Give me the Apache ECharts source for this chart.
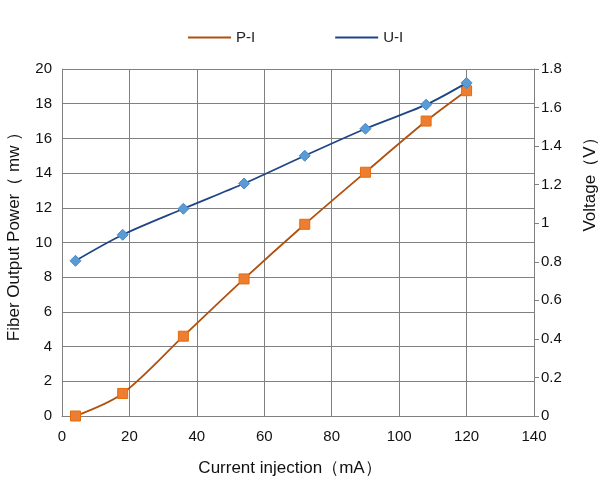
<!DOCTYPE html>
<html>
<head>
<meta charset="utf-8">
<script src="https://cdn.jsdelivr.net/npm/echarts@6/dist/echarts.min.js"></script>
<style>
html,body{margin:0;padding:0;background:#fff}
#main{width:602px;height:494px}
</style>
</head>
<body>
<div id="main"></div>
<script>
// 电流注入 (mA)
var current = [4, 18, 36, 54, 72, 90, 108, 120];
// P-I 光纤输出功率 (mW)
var power = [0, 1.3, 4.6, 7.9, 11.05, 14.05, 17.0, 18.75];
// U-I 电压 (V)
var voltage = [0.805, 0.94, 1.075, 1.206, 1.35, 1.49, 1.615, 1.728];

var tickFont = '"Liberation Sans", Arial, sans-serif';
var nameFont = '"Liberation Sans", Arial, sans-serif';
var piLine = '#B0500F', uiLine = '#1F4585';

function pairs(xs, ys) {
    var out = [];
    for (var i = 0; i < xs.length; i++) out.push([xs[i], ys[i]]);
    return out;
}

var option = {
    backgroundColor: '#fff',
    animation: false,
    legend: {
        top: 25,
        left: 183,
        itemGap: 80,
        itemWidth: 43,
        itemHeight: 2,
        icon: 'rect',
        textStyle: {fontFamily: tickFont, fontSize: 15, color: '#222'},
        data: [
            {name: 'P-I', itemStyle: {color: piLine, borderWidth: 0}},
            {name: 'U-I', itemStyle: {color: uiLine, borderWidth: 0}}
        ]
    },
    grid: {left: 62, right: 68, top: 69, bottom: 78, outerBoundsMode: 'none', containLabel: false},
    xAxis: {
        type: 'value',
        min: 0, max: 140, interval: 20,
        name: 'Current injection（mA）',
        nameLocation: 'middle',
        nameGap: 44,
        nameTextStyle: {fontFamily: nameFont, fontSize: 17, color: '#111', padding: [0, 16, 0, 0]},
        axisLine: {lineStyle: {color: '#808080'}},
        axisTick: {show: false},
        axisLabel: {fontFamily: tickFont, fontSize: 15, color: '#111', margin: 13},
        splitLine: {lineStyle: {color: '#808080', width: 1}}
    },
    yAxis: [{
        type: 'value',
        min: 0, max: 20, interval: 2,
        name: 'Fiber Output Power（ mw ）',
        nameLocation: 'middle',
        nameGap: 39,
        nameTextStyle: {fontFamily: nameFont, fontSize: 17, color: '#111', padding: [0, 0, 0, 20]},
        axisLine: {show: true, lineStyle: {color: '#808080'}},
        axisTick: {show: false},
        axisLabel: {fontFamily: tickFont, fontSize: 15, color: '#111', margin: 10},
        splitLine: {lineStyle: {color: '#808080', width: 1}}
    }, {
        type: 'value',
        min: 0, max: 1.8, interval: 0.2,
        name: 'Voltage（V）',
        nameLocation: 'middle',
        nameGap: 48,
        nameRotate: 90,
        nameTextStyle: {fontFamily: nameFont, fontSize: 17, color: '#111', padding: [0, 0, 0, 124]},
        axisLine: {show: true, lineStyle: {color: '#808080'}},
        axisTick: {show: true, length: 5, inside: false, lineStyle: {color: '#808080'}},
        axisLabel: {fontFamily: tickFont, fontSize: 15, color: '#111', margin: 7,
            formatter: function (v) { return +v.toFixed(1) + ''; }},
        splitLine: {show: false}
    }],
    series: [{
        name: 'P-I',
        type: 'line',
        yAxisIndex: 0,
        smooth: 0.3,
        data: pairs(current, power),
        symbol: 'rect',
        symbolSize: 10,
        itemStyle: {color: '#ED7D31', borderColor: '#E46C0A', borderWidth: 1},
        lineStyle: {color: piLine, width: 1.8},
        z: 3
    }, {
        name: 'U-I',
        type: 'line',
        yAxisIndex: 1,
        smooth: 0.3,
        data: pairs(current, voltage),
        symbol: 'diamond',
        symbolSize: 11,
        itemStyle: {color: '#5B9BD5', borderColor: '#4A8AC8', borderWidth: 1},
        lineStyle: {color: uiLine, width: 1.8},
        z: 4
    }]
};

var chart = echarts.init(document.getElementById('main'));
chart.setOption(option);
</script>
</body>
</html>
